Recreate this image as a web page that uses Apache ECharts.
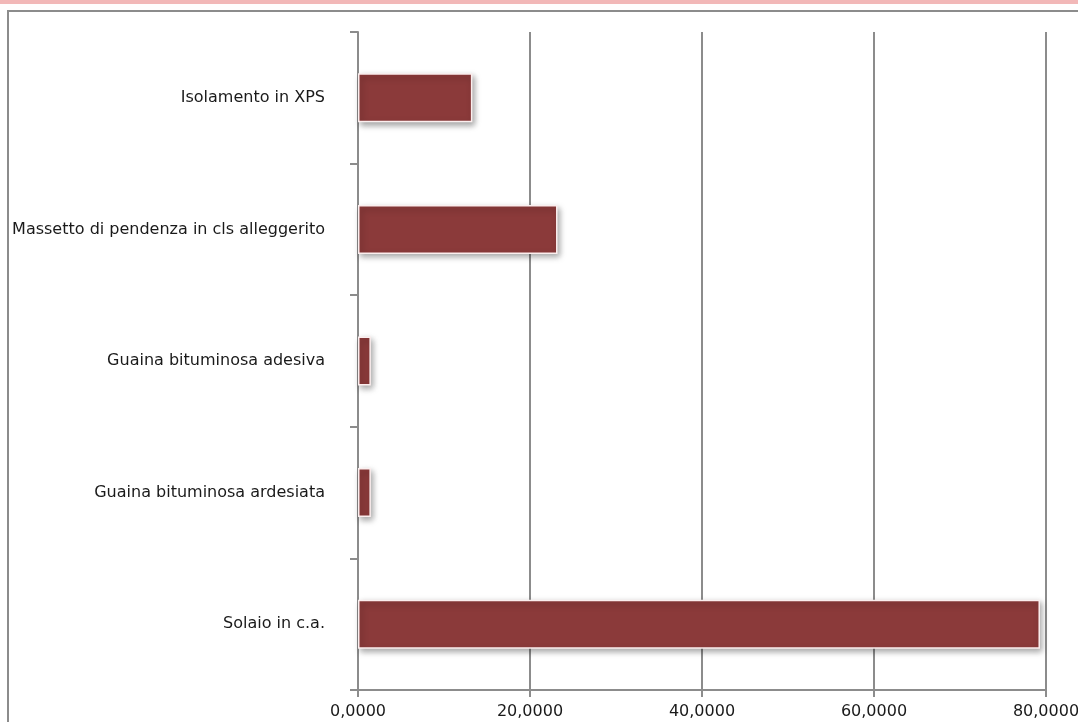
<!DOCTYPE html>
<html><head><meta charset="utf-8">
<script src="https://cdn.jsdelivr.net/npm/echarts@6/dist/echarts.min.js"></script>
<style>html,body{margin:0;padding:0;background:#fff}#c{width:1078px;height:722px}</style>
</head><body><div id="c"></div>
<script>
const categories = ['Solaio in c.a.', 'Guaina bituminosa ardesiata', 'Guaina bituminosa adesiva', 'Massetto di pendenza in cls alleggerito', 'Isolamento in XPS'];
const values = [79.3, 1.5, 1.5, 23.2, 13.3];
const xTicks = { min: 0, max: 80, interval: 20 };

const chart = echarts.init(document.getElementById('c'));
chart.setOption({
  animation: false,
  graphic: [
    { type: 'rect', shape: { x: 0, y: 0, width: 1078, height: 4 }, style: { fill: '#f2b8b8' }, silent: true },
    { type: 'rect', shape: { x: 8, y: 11, width: 1200, height: 900 }, style: { fill: 'none', stroke: '#8c8c8c', lineWidth: 2 }, silent: true }
  ],
  grid: { left: 358, right: 32, top: 32, bottom: 32, outerBoundsMode: 'none', containLabel: false },
  xAxis: {
    type: 'value', min: xTicks.min, max: xTicks.max, interval: xTicks.interval,
    axisLine: { show: true, lineStyle: { color: '#8c8c8c', width: 2 } },
    axisTick: { show: true, length: 7, lineStyle: { color: '#8c8c8c', width: 2 } },
    splitLine: { show: true, lineStyle: { color: '#8c8c8c', width: 2 } },
    axisLabel: { color: '#1a1a1a', fontFamily: 'DejaVu Sans', fontSize: 16, margin: 14, hideOverlap: false,
      formatter: v => v.toFixed(4).replace('.', ','), alignMinLabel: 'center', alignMaxLabel: 'center' }
  },
  yAxis: {
    type: 'category', data: categories,
    axisLine: { show: true, lineStyle: { color: '#8c8c8c', width: 2 } },
    axisTick: { show: true, length: 8, lineStyle: { color: '#8c8c8c', width: 2 } },
    axisLabel: { color: '#1a1a1a', fontFamily: 'DejaVu Sans', fontSize: 16, margin: 33 }
  },
  series: [{
    type: 'bar', data: values, barWidth: 49,
    itemStyle: { color: '#8b3a3a', borderColor: '#fbeeee', borderWidth: 1.5,
      shadowBlur: 6, shadowOffsetX: 2, shadowOffsetY: 3, shadowColor: 'rgba(0,0,0,0.35)' }
  }]
});
</script></body></html>
